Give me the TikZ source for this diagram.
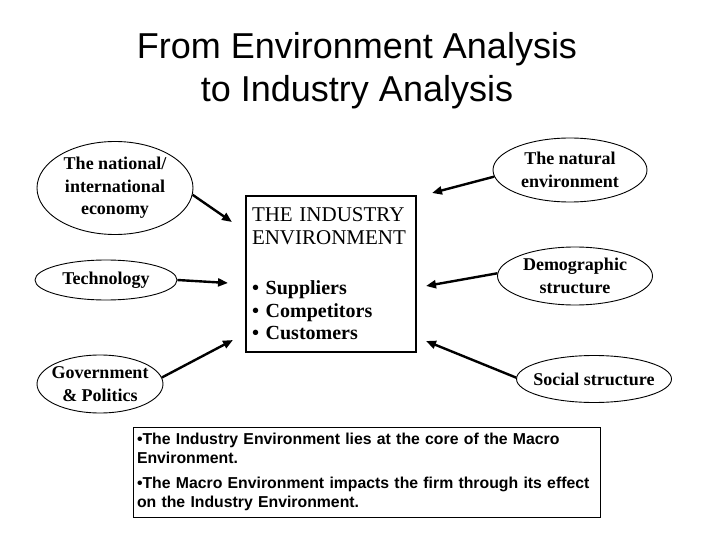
\documentclass[tikz,border=0pt]{standalone}
\usepackage{fontspec}
\setmainfont{Liberation Serif}
\setsansfont{Liberation Sans}
\usetikzlibrary{shapes.geometric,arrows.meta}
\begin{document}
\begin{tikzpicture}[x=1pt,y=-1pt,
  oval/.style={ellipse,draw,line width=0.9pt,inner sep=-6pt,align=center,
    font=\fontsize{18}{22.5}\selectfont\bfseries},
  conn/.style={line width=2.4pt,-{Triangle[length=10pt,width=8pt]}},
  indbox/.style={draw,line width=1.4pt,minimum width=170pt,minimum height=156pt,
    align=left,inner sep=6pt,font=\fontsize{20}{22.5}\selectfont},
  notebox/.style={draw,line width=1pt,minimum width=467pt,minimum height=90pt,
    align=left,inner sep=4pt,font=\sffamily\bfseries\fontsize{15.8}{19}\selectfont}]
\useasboundingbox (0,0) rectangle (720,540);
\fill[white] (0,0) rectangle (720,540);
\node[font=\sffamily\fontsize{36}{43}\selectfont,align=center] (title) at (357,71)
  {From Environment Analysis\\to Industry Analysis};
\node[oval,minimum width=156pt,minimum height=93pt] (econ) at (115,188)
  {The national/\\international\\economy};
\node[oval,minimum width=142pt,minimum height=40pt] (tech) at (106,280) {Technology};
\node[oval,minimum width=126pt,minimum height=58pt] (gov) at (100,384)
  {Government\\\& Politics};
\node[oval,minimum width=154pt,minimum height=64pt] (nat) at (570,170)
  {The natural\\environment};
\node[oval,minimum width=155pt,minimum height=58pt] (demo) at (575,276)
  {Demographic\\structure};
\node[oval,minimum width=155pt,minimum height=47pt] (soc) at (594,379)
  {Social structure};
\node[indbox,text width=158pt] (ind) at (331,274)
  {{\fontsize{21}{22.5}\selectfont THE INDUSTRY\\ENVIRONMENT}\\[28pt]\textbf{• Suppliers}\\\textbf{• Competitors}\\\textbf{• Customers}};
\node[notebox,text width=459pt] (note) at (366.5,472)
  {•The Industry Environment lies at the core of the Macro\\Environment.\\[6pt]
   •The Macro Environment impacts the firm through its effect\\on the Industry Environment.};
\coordinate (t1) at (232,222);
\coordinate (t2) at (228,283);
\coordinate (t3) at (233,340);
\coordinate (t4) at (432,193);
\coordinate (t5) at (426,286);
\coordinate (t6) at (426,341);
\draw[conn] (econ.-5) -- (t1);
\draw[conn] (tech.0) -- (t2);
\draw[conn] (gov.6) -- (t3);
\draw[conn] (nat.185) -- (t4);
\draw[conn] (demo.178) -- (t5);
\draw[conn] (soc.179) -- (t6);
\end{tikzpicture}
\end{document}
